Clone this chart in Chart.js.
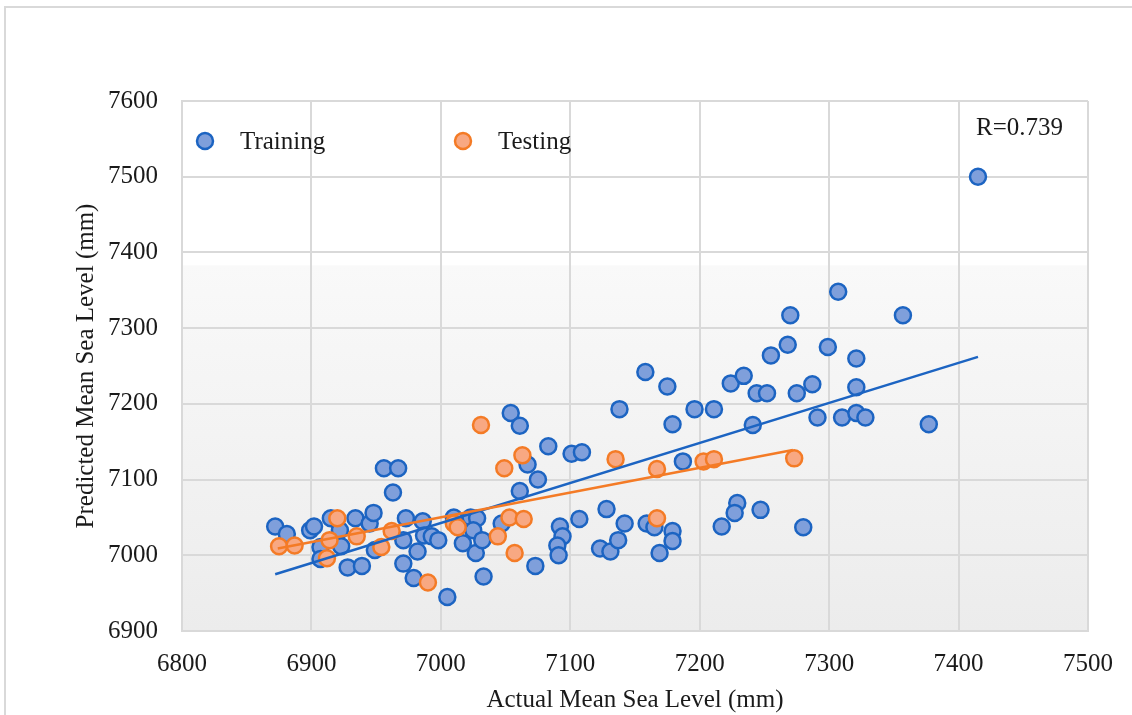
<!DOCTYPE html>
<html>
<head>
<meta charset="utf-8">
<script src="https://cdn.jsdelivr.net/npm/chart.js@4.4.0/dist/chart.umd.min.js"></script>
<style>
  html, body { margin: 0; padding: 0; background: #fff; overflow: hidden; }
  #frame { position: absolute; left: 4px; top: 6px; width: 1200px; height: 800px; border: 2px solid #d9d9d9; }
  #wrap { position: absolute; left: 0; top: 0; width: 1132px; height: 715px; }
</style>
</head>
<body>
<div id="frame"></div>
<div id="wrap"><canvas id="scatterChart" width="1132" height="715"></canvas></div>
<script>
// values (mm)
const trainActual = [6872, 6881, 6899, 6902, 6907, 6907, 6915, 6922, 6923, 6928,
    6934, 6939, 6945, 6948, 6949, 6956, 6967, 6963, 6973, 6971,
    6971, 6979, 6982, 6986, 6987, 6993, 6998, 7005, 7010, 7017,
    7023, 7028, 7025, 7027, 7032, 7033, 7047, 7054, 7061, 7083,
    7067, 7075, 7061, 7073, 7092, 7094, 7090, 7091, 7101, 7109,
    7107, 7128, 7123, 7131, 7137, 7138, 7142, 7159, 7165, 7179,
    7179, 7169, 7158, 7175, 7179, 7187, 7196, 7211, 7217, 7229,
    7227, 7224, 7234, 7241, 7244, 7252, 7247, 7255, 7270, 7268,
    7275, 7287, 7280, 7291, 7299, 7307, 7310, 7321, 7321, 7321,
    7328, 7357, 7377, 7415];
const trainPredicted = [7038, 7028, 7033, 7038, 7011, 6995, 7049, 7033, 7012, 6984,
    7049, 6986, 7042, 7056, 7007, 7115, 7115, 7083, 7049, 7020,
    6989, 6970, 7005, 7045, 7026, 7025, 7020, 6945, 7050, 7016,
    7050, 7049, 7033, 7003, 7020, 6972, 7042, 7188, 7171, 7144,
    7120, 7100, 7085, 6986, 7038, 7025, 7013, 7000, 7134, 7136,
    7048, 7061, 7009, 7005, 7020, 7193, 7042, 7042, 7037, 7032,
    7019, 7003, 7242, 7223, 7173, 7124, 7193, 7193, 7038, 7069,
    7056, 7227, 7237, 7172, 7214, 7214, 7060, 7264, 7317, 7278,
    7214, 7226, 7037, 7182, 7275, 7348, 7182, 7260, 7222, 7188,
    7182, 7317, 7173, 7500];

const testActual = [6875, 6887, 6914, 6920, 6912, 6935, 6954, 6962, 6990, 7010,
    7013, 7031, 7049, 7063, 7053, 7064, 7044, 7057, 7135, 7167,
    7203, 7211, 7167, 7273];
const testPredicted = [7012, 7013, 7020, 7049, 6996, 7025, 7011, 7032, 6964, 7042,
    7037, 7172, 7115, 7132, 7050, 7048, 7025, 7003, 7127, 7114,
    7124, 7127, 7049, 7128];

// trend line end points
const trainFitX = [6872, 7415];
const trainFitY = [6975, 7262];
const testFitX = [6874, 7272];
const testFitY = [7009, 7139];

const seriesNames = ["Training", "Testing"];
const rLabel = "R=0.739";
const xTitle = "Actual Mean Sea Level (mm)";
const yTitle = "Predicted Mean Sea Level (mm)";

const toPoints = (xs, ys) => xs.map((x, i) => ({ x: x, y: ys[i] }));

const blueFill = "#7f9fdb", blueLine = "#1c64c2";
const orangeFill = "#f8a882", orangeLine = "#f47b26";
const serif = "'Liberation Serif', 'Times New Roman', serif";
const markerRadius = 8;

// light grey band in the lower part of the plot
const bandPlugin = {
    id: "band",
    beforeDraw(chart) {
        const { ctx, chartArea: a } = chart;
        const top = a.top + (a.bottom - a.top) * 0.31;
        const g = ctx.createLinearGradient(0, top, 0, a.bottom);
        g.addColorStop(0, "#f9f9f9");
        g.addColorStop(1, "#ececec");
        ctx.save();
        ctx.fillStyle = g;
        ctx.fillRect(a.left, top, a.right - a.left, a.bottom - top);
        ctx.restore();
    }
};

// legend inside the plot + R label
const legendPlugin = {
    id: "innerLegend",
    afterDraw(chart) {
        const { ctx, chartArea: a } = chart;
        const y = a.top + 40;
        const items = [
            { x: a.left + 23, fill: blueFill, line: blueLine, text: seriesNames[0] },
            { x: a.left + 281, fill: orangeFill, line: orangeLine, text: seriesNames[1] }
        ];
        ctx.save();
        ctx.font = "25px " + serif;
        ctx.textBaseline = "middle";
        items.forEach(it => {
            ctx.beginPath();
            ctx.arc(it.x, y, markerRadius, 0, Math.PI * 2);
            ctx.fillStyle = it.fill;
            ctx.fill();
            ctx.lineWidth = 2.5;
            ctx.strokeStyle = it.line;
            ctx.stroke();
            ctx.fillStyle = "#1a1a1a";
            ctx.fillText(it.text, it.x + 35, y + 1);
        });
        ctx.fillText(rLabel, a.left + 794, a.top + 27);
        ctx.restore();
    }
};

const ctx = document.getElementById("scatterChart").getContext("2d");

new Chart(ctx, {
    type: "scatter",
    data: {
        datasets: [
            {
                label: "Testing fit",
                data: toPoints(testFitX, testFitY),
                showLine: true,
                borderColor: orangeLine,
                borderWidth: 2.5,
                pointRadius: 0,
                order: 0
            },
            {
                label: "Training fit",
                data: toPoints(trainFitX, trainFitY),
                showLine: true,
                borderColor: blueLine,
                borderWidth: 2.5,
                pointRadius: 0,
                order: 1
            },
            {
                label: seriesNames[1],
                data: toPoints(testActual, testPredicted),
                backgroundColor: orangeFill,
                borderColor: orangeLine,
                borderWidth: 2.5,
                pointRadius: markerRadius,
                order: 2
            },
            {
                label: seriesNames[0],
                data: toPoints(trainActual, trainPredicted),
                backgroundColor: blueFill,
                borderColor: blueLine,
                borderWidth: 2.5,
                pointRadius: markerRadius,
                order: 3
            }
        ]
    },
    options: {
        responsive: false,
        animation: false,
        layout: { padding: { top: 101, right: 44, left: 0, bottom: 0 } },
        plugins: {
            legend: { display: false },
            tooltip: { enabled: false }
        },
        scales: {
            x: {
                min: 6800,
                max: 7500,
                afterFit(scale) { scale.height = 84; },
                ticks: { stepSize: 100, padding: 18, color: "#1a1a1a", font: { family: serif, size: 25 },
                    callback: v => String(v) },
                grid: { color: "#d9d9d9", lineWidth: 2, drawTicks: false },
                border: { color: "#d9d9d9", width: 2 },
                title: {
                    display: true,
                    text: xTitle,
                    color: "#1a1a1a",
                    font: { family: serif, size: 25 },
                    padding: { top: 0, bottom: 0 }
                }
            },
            y: {
                min: 6900,
                max: 7600,
                afterFit(scale) { scale.width = 182; },
                ticks: { stepSize: 100, padding: 24, color: "#1a1a1a", font: { family: serif, size: 25 },
                    callback: v => String(v) },
                grid: { color: "#d9d9d9", lineWidth: 2, drawTicks: false },
                border: { color: "#d9d9d9", width: 2 },
                title: {
                    display: true,
                    text: yTitle,
                    color: "#1a1a1a",
                    font: { family: serif, size: 25 },
                    padding: { top: 71, bottom: 0 }
                }
            }
        }
    },
    plugins: [bandPlugin, legendPlugin]
});
</script>
</body>
</html>
